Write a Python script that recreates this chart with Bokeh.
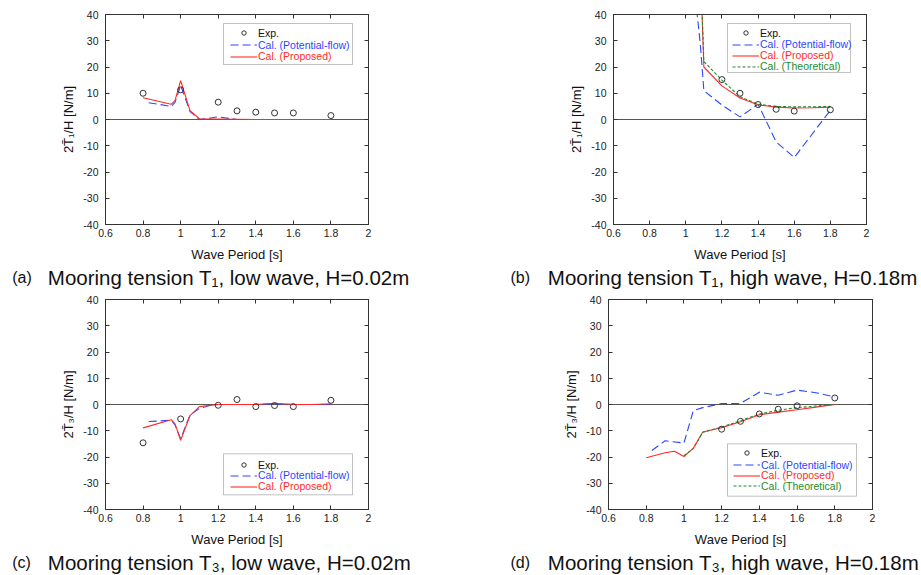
from bokeh.plotting import figure
from bokeh.models import (Range1d, LinearAxis, CustomJSTickFormatter, Span, Legend,
                          LegendItem, BoxAnnotation, Label)
from bokeh.layouts import column, row
from bokeh.embed import file_html
from bokeh.resources import INLINE

FONT = "Liberation Sans"

# ---------------- axes ----------------
X_TICKS = [0.6, 0.8, 1.0, 1.2, 1.4, 1.6, 1.8, 2.0]
X_TICK_LABELS = ["0.6", "0.8", "1", "1.2", "1.4", "1.6", "1.8", "2"]
Y_TICKS = [-40, -30, -20, -10, 0, 10, 20, 30, 40]
Y_TICK_LABELS = ["-40", "-30", "-20", "-10", "0", "10", "20", "30", "40"]
X_LABEL = "Wave Period [s]"

# ---------------- (a) T1, low wave ----------------
a_exp_x = [0.8, 1.0, 1.2, 1.3, 1.4, 1.5, 1.6, 1.8]
a_exp_y = [10.0, 11.3, 6.6, 3.3, 2.8, 2.5, 2.5, 1.5]
a_pot_x = [0.83, 0.95, 0.97, 1.0, 1.05, 1.1, 1.2, 1.3, 1.4, 1.5, 1.6, 1.7, 1.8]
a_pot_y = [6.4, 5.0, 6.5, 13.0, 3.0, 0.0, 1.0, 0.0, 0.0, 0.0, 0.0, 0.0, 0.0]
a_pro_x = [0.8, 0.95, 0.97, 1.0, 1.05, 1.1, 1.2, 1.3, 1.4, 1.5, 1.6, 1.7, 1.8]
a_pro_y = [8.3, 5.8, 7.2, 14.8, 3.4, 0.3, 0.2, 0.1, 0.0, 0.0, 0.0, 0.0, 0.0]

# ---------------- (b) T1, high wave ----------------
b_exp_x = [1.2, 1.3, 1.4, 1.5, 1.6, 1.8]
b_exp_y = [15.2, 10.0, 5.7, 3.9, 3.2, 3.7]
b_pot_x = [1.06, 1.08, 1.1, 1.2, 1.3, 1.4, 1.5, 1.6, 1.8]
b_pot_y = [42.0, 29.0, 11.0, 5.5, 1.0, 5.8, -8.5, -14.5, 3.5]
b_pro_x = [1.08, 1.1, 1.2, 1.3, 1.4, 1.5, 1.6, 1.7, 1.8]
b_pro_y = [60.0, 20.0, 12.8, 8.2, 5.6, 4.7, 4.4, 4.5, 4.7]
b_the_x = [1.08, 1.1, 1.2, 1.3, 1.4, 1.5, 1.6, 1.7, 1.8]
b_the_y = [62.0, 22.1, 15.0, 8.7, 5.8, 5.0, 4.8, 4.8, 5.0]

# ---------------- (c) T3, low wave ----------------
c_exp_x = [0.8, 1.0, 1.2, 1.3, 1.4, 1.5, 1.6, 1.8]
c_exp_y = [-14.6, -5.5, -0.3, 1.9, -0.8, -0.4, -0.8, 1.6]
c_pot_x = [0.83, 0.95, 0.97, 1.0, 1.05, 1.1, 1.15, 1.2, 1.3, 1.4, 1.5, 1.6, 1.7, 1.8]
c_pot_y = [-6.5, -6.0, -7.8, -13.0, -4.0, -1.5, -0.5, 0.0, 0.0, 0.0, 0.2, 0.0, 0.0, 0.0]
c_pro_x = [0.8, 0.95, 0.97, 1.0, 1.05, 1.1, 1.2, 1.3, 1.4, 1.5, 1.6, 1.7, 1.8]
c_pro_y = [-8.9, -5.8, -7.4, -13.6, -4.2, -0.8, 0.0, 0.0, 0.0, 0.5, 0.0, 0.0, 0.3]

# ---------------- (d) T3, high wave ----------------
d_exp_x = [1.2, 1.3, 1.4, 1.5, 1.6, 1.8]
d_exp_y = [-9.4, -6.4, -3.6, -1.8, -0.5, 2.5]
d_pot_x = [0.83, 0.9, 1.0, 1.05, 1.1, 1.2, 1.3, 1.4, 1.5, 1.6, 1.7, 1.8]
d_pot_y = [-17.5, -13.8, -14.7, -2.3, -1.2, 0.4, 0.4, 4.7, 3.5, 5.5, 4.5, 2.9]
d_pro_x = [0.8, 0.9, 0.95, 1.0, 1.05, 1.1, 1.2, 1.3, 1.4, 1.5, 1.6, 1.7, 1.8]
d_pro_y = [-20.3, -18.4, -17.8, -19.8, -16.6, -10.5, -8.8, -6.6, -3.9, -2.9, -2.0, -1.0, 0.0]
d_the_x = [1.0, 1.05, 1.1, 1.2, 1.3, 1.4, 1.5, 1.6, 1.7, 1.8]
d_the_y = [-19.5, -16.8, -10.6, -8.6, -6.2, -3.6, -2.2, -1.2, -0.6, 0.0]

LEG_EXP = "Exp."
LEG_POT = "Cal. (Potential-flow)"
LEG_PRO = "Cal. (Proposed)"
LEG_THE = "Cal. (Theoretical)"

CAPTIONS = [("(a)", "Mooring tension T\u2081, low wave, H=0.02m"),
            ("(b)", "Mooring tension T\u2081, high wave, H=0.18m"),
            ("(c)", "Mooring tension T\u2083, low wave, H=0.02m"),
            ("(d)", "Mooring tension T\u2083, high wave, H=0.18m")]
YLAB_T1 = "2T\u0304\u2081/H [N/m]"
YLAB_T3 = "2T\u0304\u2083/H [N/m]"

BLACK = "#333333"
BLUE = "#2c46ff"
RED = "#ff2a2a"
GREEN = "#1c8c2c"
AX = "#333333"


def make_panel(W, H, L, R, T, B, ylab, series, exp, legend_box, legend_rows, glyph_x):
    fh = H - T - B
    p = figure(width=W, height=H, x_range=Range1d(0.6, 2.0), y_range=Range1d(-40, 40),
               output_backend="svg", toolbar_location=None,
               min_border_left=L, min_border_right=R, min_border_top=T,
               min_border_bottom=B, background_fill_color="white",
               border_fill_color="white")
    p.grid.visible = False
    p.outline_line_color = AX
    p.outline_line_width = 1

    for ax, ticks, labels in ((p.xaxis[0], X_TICKS, X_TICK_LABELS),
                              (p.yaxis[0], Y_TICKS, Y_TICK_LABELS)):
        ax.ticker = ticks
        ax.major_label_overrides = dict(zip(ticks, labels))
        ax.major_tick_in = 4
        ax.major_tick_out = 0
        ax.minor_tick_in = 0
        ax.minor_tick_out = 0
        ax.axis_line_color = AX
        ax.major_tick_line_color = AX
        ax.major_label_text_font = FONT
        ax.major_label_text_font_size = "10.5px"
        ax.major_label_text_color = "#222222"
        ax.axis_label_text_font = FONT
        ax.axis_label_text_font_size = "13px"
        ax.axis_label_text_font_style = "normal"
        ax.axis_label_text_color = "#111111"
    p.xaxis[0].axis_label = X_LABEL
    p.xaxis[0].major_label_standoff = 4
    p.xaxis[0].axis_label_standoff = 7
    p.yaxis[0].axis_label = ylab
    p.yaxis[0].major_label_standoff = 7
    p.yaxis[0].axis_label_standoff = 4

    blank = CustomJSTickFormatter(code="return ''")
    for loc, ticks in (("above", X_TICKS), ("right", Y_TICKS)):
        ax = LinearAxis(ticker=ticks, formatter=blank, major_tick_in=4, major_tick_out=0,
                        minor_tick_in=0, minor_tick_out=0, axis_line_color=AX,
                        major_tick_line_color=AX, major_label_standoff=0,
                        major_label_text_font_size="6px")
        p.add_layout(ax, loc)

    p.add_layout(Span(location=0, dimension="width", line_color="#555555",
                      line_width=1.2, level="underlay"))

    items = []
    for (name, xs, ys, color, dash) in series:
        r = p.line(xs, ys, line_color=color, line_width=1.1, line_dash=dash)
        items.append((name, r, color))
    rexp = p.scatter(exp[0], exp[1], marker="circle", size=6, fill_color=None,
                     line_color=BLACK, line_width=1)
    items.insert(0, (LEG_EXP, rexp, "#111111"))

    bx0, bx1, by0, by1 = legend_box
    p.add_layout(BoxAnnotation(left=bx0, right=bx1, top=fh - by0, bottom=fh - by1,
                               left_units="screen", right_units="screen",
                               top_units="screen", bottom_units="screen",
                               fill_color="white", fill_alpha=1.0,
                               line_color=AX, line_width=1))
    RH = 11
    for (name, r, color), ytop in zip(items, legend_rows):
        leg = Legend(items=[LegendItem(label=name, renderers=[r])],
                     location=(glyph_x, fh - ytop - RH / 2), padding=0, margin=0,
                     spacing=0, border_line_color=None, background_fill_alpha=0,
                     glyph_width=27, glyph_height=RH, label_height=RH,
                     label_standoff=1, label_text_font=FONT,
                     label_text_font_size="10.5px", label_text_color=color)
        p.add_layout(leg)
    return p


def make_caption(W, Hc, tag, caption, tag_x, cap_x, base):
    c = figure(width=W, height=Hc, x_range=Range1d(0, 1), y_range=Range1d(0, 1),
               output_backend="svg", toolbar_location=None, x_axis_type=None,
               y_axis_type=None, min_border=0, background_fill_color="white",
               border_fill_color="white")
    c.outline_line_color = None
    c.grid.visible = False
    c.add_layout(Label(x=tag_x, y=base, x_units="screen", y_units="screen",
                       text=tag, text_font=FONT, text_font_size="16px",
                       text_color="#111111", text_baseline="alphabetic"))
    c.add_layout(Label(x=cap_x, y=base, x_units="screen", y_units="screen",
                       text=caption, text_font=FONT, text_font_size="20.5px",
                       text_color="#111111", text_baseline="alphabetic"))
    return c


# top row: panels 0-265, captions 265-292; bottom row: panels 292-550, captions 550-575
pa = make_panel(460, 265, 105, 92, 14, 41, YLAB_T1,
                [(LEG_POT, a_pot_x, a_pot_y, BLUE, "8 4"),
                 (LEG_PRO, a_pro_x, a_pro_y, RED, "solid")],
                (a_exp_x, a_exp_y), (118, 247, 9, 50), (19.3, 31.0, 42.5), 125)

pb = make_panel(461, 265, 153, 55, 14, 41, YLAB_T1,
                [(LEG_POT, b_pot_x, b_pot_y, BLUE, "8 4"),
                 (LEG_PRO, b_pro_x, b_pro_y, RED, "solid"),
                 (LEG_THE, b_the_x, b_the_y, GREEN, "3 2")],
                (b_exp_x, b_exp_y), (114, 237, 9, 58), (19.3, 30.5, 41.5, 52.7), 119)

pc = make_panel(460, 258, 105, 92, 7, 41, YLAB_T3,
                [(LEG_POT, c_pot_x, c_pot_y, BLUE, "8 4"),
                 (LEG_PRO, c_pro_x, c_pro_y, RED, "solid")],
                (c_exp_x, c_exp_y), (118, 247, 154.3, 195.3), (166.0, 176.7, 187.7), 125)

pd_ = make_panel(461, 258, 148, 49, 7, 41, YLAB_T3,
                 [(LEG_POT, d_pot_x, d_pot_y, BLUE, "8 4"),
                  (LEG_PRO, d_pro_x, d_pro_y, RED, "solid"),
                  (LEG_THE, d_the_x, d_the_y, GREEN, "3 2")],
                 (d_exp_x, d_exp_y), (119, 248, 144.3, 196.7), (154.3, 166.0, 176.7, 187.3), 125)

ca = make_caption(460, 27, *CAPTIONS[0], 11.7, 47.3, 15)
cb = make_caption(461, 27, *CAPTIONS[1], 50, 87.3, 15)
cc = make_caption(460, 25, *CAPTIONS[2], 11.7, 47.3, 13)
cd = make_caption(461, 25, *CAPTIONS[3], 50, 87.3, 13)

layout = column(row(pa, pb), row(ca, cb), row(pc, pd_), row(cc, cd))

open("out.html", "w").write(file_html(layout, INLINE))
